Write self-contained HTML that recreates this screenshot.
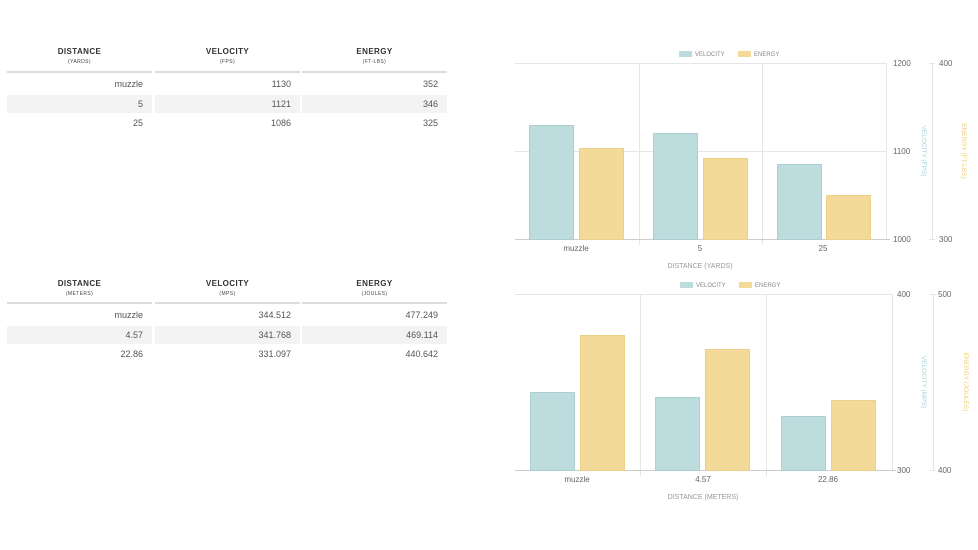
<!DOCTYPE html>
<html><head><style>
body{margin:0;width:978px;height:550px;background:#fff;font-family:"Liberation Sans",sans-serif;position:relative;overflow:hidden}
.t{position:absolute;left:7px;width:440px}
.hd{position:absolute;text-align:center;width:145px}
.hd b{display:block;font-size:8px;color:#333;letter-spacing:.4px}
.hd i{display:block;font-style:normal;font-size:5px;color:#444;margin-top:3px;letter-spacing:.4px}
.ln{position:absolute;height:2px;background:#ddd;width:145px}
.row{position:absolute;height:18px;width:440px}
.row span{position:absolute;width:145px;text-align:right;font-size:9px;color:#555;line-height:18px;background:inherit}
.row.s span{background:#f3f3f3}
</style></head><body>

<div class="t" style="top:45px">
 <div class="hd" style="left:0;top:2px"><b>DISTANCE</b><i>(YARDS)</i></div>
 <div class="hd" style="left:148px;top:2px"><b>VELOCITY</b><i>(FPS)</i></div>
 <div class="hd" style="left:295px;top:2px"><b>ENERGY</b><i>(FT-LBS)</i></div>
 <div class="ln" style="left:0;top:26px"></div><div class="ln" style="left:148px;top:26px"></div><div class="ln" style="left:295px;top:26px"></div>
 <div class="row" style="top:30px"><span style="left:-9px">muzzle</span><span style="left:139px">1130</span><span style="left:286px">352</span></div>
 <div class="row s" style="top:50px"><span style="left:0;padding-right:9px;width:136px">5</span><span style="left:148px;padding-right:9px;width:136px">1121</span><span style="left:295px;padding-right:9px;width:136px">346</span></div>
 <div class="row" style="top:69px"><span style="left:-9px">25</span><span style="left:139px">1086</span><span style="left:286px">325</span></div>
</div>

<div class="t" style="top:277px">
 <div class="hd" style="left:0;top:2px"><b>DISTANCE</b><i>(METERS)</i></div>
 <div class="hd" style="left:148px;top:2px"><b>VELOCITY</b><i>(MPS)</i></div>
 <div class="hd" style="left:295px;top:2px"><b>ENERGY</b><i>(JOULES)</i></div>
 <div class="ln" style="left:0;top:25px"></div><div class="ln" style="left:148px;top:25px"></div><div class="ln" style="left:295px;top:25px"></div>
 <div class="row" style="top:29px"><span style="left:-9px">muzzle</span><span style="left:139px">344.512</span><span style="left:286px">477.249</span></div>
 <div class="row s" style="top:49px"><span style="left:0;padding-right:9px;width:136px">4.57</span><span style="left:148px;padding-right:9px;width:136px">341.768</span><span style="left:295px;padding-right:9px;width:136px">469.114</span></div>
 <div class="row" style="top:68px"><span style="left:-9px">22.86</span><span style="left:139px">331.097</span><span style="left:286px">440.642</span></div>
</div>

<svg width="978" height="550" style="position:absolute;left:0;top:0" font-family="Liberation Sans, sans-serif">
<g font-size="6" fill="#888">
 <rect x="679" y="51" width="13" height="6" fill="#bcdcdd"/><text x="695" y="56">VELOCITY</text>
 <rect x="738" y="51" width="13" height="6" fill="#f3da98"/><text x="754" y="56">ENERGY</text>
 <rect x="680" y="282" width="13" height="6" fill="#bcdcdd"/><text x="696" y="287">VELOCITY</text>
 <rect x="739" y="282" width="13" height="6" fill="#f3da98"/><text x="755" y="287">ENERGY</text>
</g>
<g stroke="#e6e6e6" stroke-width="1">
 <line x1="515" y1="63.5" x2="887" y2="63.5"/><line x1="515" y1="151.5" x2="887" y2="151.5"/>
 <line x1="639.5" y1="63" x2="639.5" y2="245"/><line x1="762.5" y1="63" x2="762.5" y2="245"/>
 <line x1="886.5" y1="63" x2="886.5" y2="239"/><line x1="932.5" y1="63" x2="932.5" y2="239"/>
 <line x1="929" y1="63.5" x2="935" y2="63.5"/><line x1="929" y1="239.5" x2="935" y2="239.5"/>
</g>
<line x1="515" y1="239.5" x2="890" y2="239.5" stroke="#ccc"/>
<g fill="#bcdcdd" stroke="#acd0d1"><rect x="529.5" y="125.5" width="44" height="114"/><rect x="653.5" y="133.5" width="44" height="106"/><rect x="777.5" y="164.5" width="44" height="75"/></g>
<g fill="#f3da98" stroke="#ecd08a"><rect x="579.5" y="148.5" width="44" height="91"/><rect x="703.5" y="158.5" width="44" height="81"/><rect x="826.5" y="195.5" width="44" height="44"/></g>
<g font-size="8" fill="#666">
 <text x="576" y="251" text-anchor="middle">muzzle</text><text x="700" y="251" text-anchor="middle">5</text><text x="823" y="251" text-anchor="middle">25</text>
 <text x="893" y="66">1200</text><text x="893" y="154">1100</text><text x="893" y="242">1000</text>
 <text x="939" y="66">400</text><text x="939" y="242">300</text>
</g>
<text x="700" y="268" font-size="7" fill="#999" text-anchor="middle">DISTANCE (YARDS)</text>
<text transform="translate(922,151) rotate(90)" font-size="6.5" fill="#a9d3d5" text-anchor="middle">VELOCITY (FPS)</text>
<text transform="translate(962,151) rotate(90)" font-size="6.5" fill="#f0cf78" text-anchor="middle">ENERGY (FT-LBS)</text>
<g stroke="#e6e6e6" stroke-width="1">
 <line x1="515" y1="294.5" x2="893" y2="294.5"/>
 <line x1="640.5" y1="294" x2="640.5" y2="476"/><line x1="766.5" y1="294" x2="766.5" y2="476"/>
 <line x1="892.5" y1="294" x2="892.5" y2="470"/><line x1="933.5" y1="294" x2="933.5" y2="470"/>
 <line x1="930" y1="294.5" x2="936" y2="294.5"/><line x1="930" y1="470.5" x2="936" y2="470.5"/>
</g>
<line x1="515" y1="470.5" x2="896" y2="470.5" stroke="#ccc"/>
<g fill="#bcdcdd" stroke="#acd0d1"><rect x="530.5" y="392.5" width="44" height="78"/><rect x="655.5" y="397.5" width="44" height="73"/><rect x="781.5" y="416.5" width="44" height="54"/></g>
<g fill="#f3da98" stroke="#ecd08a"><rect x="580.5" y="335.5" width="44" height="135"/><rect x="705.5" y="349.5" width="44" height="121"/><rect x="831.5" y="400.5" width="44" height="70"/></g>
<g font-size="8" fill="#666">
 <text x="577" y="482" text-anchor="middle">muzzle</text><text x="703" y="482" text-anchor="middle">4.57</text><text x="828" y="482" text-anchor="middle">22.86</text>
 <text x="897" y="297">400</text><text x="897" y="473">300</text>
 <text x="938" y="297">500</text><text x="938" y="473">400</text>
</g>
<text x="703" y="499" font-size="7" fill="#999" text-anchor="middle">DISTANCE (METERS)</text>
<text transform="translate(922,382) rotate(90)" font-size="6.5" fill="#a9d3d5" text-anchor="middle">VELOCITY (MPS)</text>
<text transform="translate(964,382) rotate(90)" font-size="6.5" fill="#f0cf78" text-anchor="middle">ENERGY (JOULES)</text>
</svg>
</body></html>
